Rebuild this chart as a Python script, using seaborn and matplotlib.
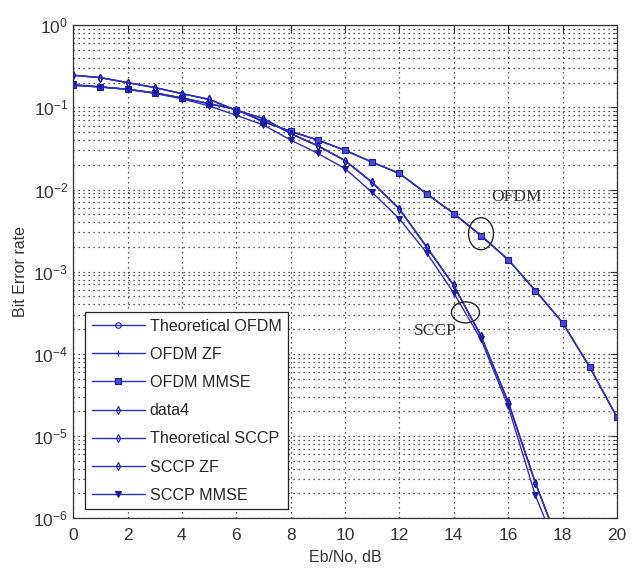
import numpy as np
import pandas as pd
import matplotlib
matplotlib.use("Agg")
import matplotlib.pyplot as plt
import seaborn as sns
from matplotlib.patches import Ellipse
from matplotlib.transforms import ScaledTranslation
from matplotlib.ticker import LogLocator, NullFormatter

# Eb/No points (dB)
snr_ofdm = list(range(0, 21))
snr_sccp = list(range(0, 19))

# OFDM curves (theoretical, ZF and MMSE lie on top of each other)
ber_ofdm = [0.186, 0.177, 0.166, 0.150, 0.130, 0.111, 0.094, 0.067, 0.051, 0.040,
            0.030, 0.0215, 0.0157, 0.0089, 0.0051, 0.00275, 0.0014, 5.9e-4,
            2.4e-4, 6.9e-5, 1.7e-5]

# SCCP curves
ber_sccp = [0.246, 0.230, 0.200, 0.174, 0.147, 0.125, 0.092, 0.073, 0.048, 0.034,
            0.0225, 0.0122, 0.0058, 0.0020, 6.8e-4, 1.65e-4, 2.6e-5, 2.7e-6, 3.7e-7]
ber_sccp_mmse = [0.190, 0.178, 0.165, 0.148, 0.127, 0.104, 0.080, 0.061, 0.040, 0.0275,
                 0.018, 0.0092, 0.0044, 0.0017, 5.5e-4, 1.5e-4, 2.3e-5, 1.9e-6, 2.9e-7]

labels = ["Theoretical OFDM", "OFDM ZF", "OFDM MMSE", "data4",
          "Theoretical SCCP", "SCCP ZF", "SCCP MMSE"]

sns.set_style("white")
plt.rcParams['font.family'] = ['Liberation Sans', 'DejaVu Sans']

blue = '#2f2fbf'
dark = '#1a1aa8'

fig = plt.figure(figsize=(6.36, 5.72), dpi=100)
ax = fig.add_axes([0.115, 0.094, 0.855, 0.862])

series = [
    (snr_ofdm, ber_ofdm, labels[0], 'o', 'none', 4),
    (snr_ofdm, ber_ofdm, labels[1], '+', dark, 5),
    (snr_ofdm, ber_ofdm, labels[2], 's', '#4a4ad8', 5),
    (snr_sccp, ber_sccp, labels[3], 'd', 'none', 4),
    (snr_sccp, ber_sccp, labels[4], 'd', 'none', 4),
    (snr_sccp, ber_sccp, labels[5], 'd', 'none', 4),
    (snr_sccp, ber_sccp_mmse, labels[6], 'v', dark, 4.5),
]
for x, y, lab, mk, fc, ms in series:
    sns.lineplot(x=x, y=y, ax=ax, label=lab, color=blue, lw=1.0,
                 marker=mk, markersize=ms, mfc=fc, mec=dark, mew=0.8)

ax.set_yscale('log')
ax.set_xlim(0, 20)
ax.set_ylim(1e-6, 1)
ax.set_xticks(range(0, 21, 2))
ax.yaxis.set_major_locator(LogLocator(base=10, numticks=10))
ax.yaxis.set_minor_locator(LogLocator(base=10, subs=np.arange(2, 10), numticks=20))
ax.yaxis.set_minor_formatter(NullFormatter())

dots = (0, (1, 3))
ax.grid(which='major', linestyle=dots, color='#222222', linewidth=0.9)
ax.grid(which='minor', axis='y', linestyle=dots, color='#222222', linewidth=0.9)
ax.tick_params(which='both', direction='in', top=True, right=True, labelsize=12.5,
               colors='#333333')
ax.tick_params(which='major', length=5)
ax.tick_params(which='minor', length=3)
ax.tick_params(axis='x', pad=7)
for s in ax.spines.values():
    s.set_color('#333333')
    s.set_linewidth(0.9)

ax.set_xlabel("Eb/No, dB", fontsize=11.5, color='#333333', labelpad=5)
ax.set_ylabel("Bit Error rate", fontsize=11.5, color='#333333', labelpad=4)

# annotations
def ring(x, y, w, h):
    tr = fig.dpi_scale_trans + ScaledTranslation(x, y, ax.transData)
    ax.add_patch(Ellipse((0, 0), w, h, transform=tr, fill=False,
                         edgecolor='#222222', lw=1.0, zorder=5))

ring(15, 2.9e-3, 0.25, 0.32)
ring(14.43, 3.2e-4, 0.28, 0.21)
ax.text(16.3, 8e-3, "OFDM", family='Liberation Serif', fontsize=12.5,
        ha='center', va='center', color='#333333')
ax.text(13.3, 1.9e-4, "SCCP", family='Liberation Serif', fontsize=12.5,
        ha='center', va='center', color='#333333')

leg = ax.legend(loc='lower left', bbox_to_anchor=(0.022, 0.018), borderaxespad=0,
                fontsize=11.6, frameon=True, fancybox=False, edgecolor='#222222',
                framealpha=1, handlelength=3.3, handletextpad=0.3,
                labelspacing=0.82, borderpad=0.4)
leg.get_frame().set_linewidth(0.9)

fig.savefig("out.png", dpi=100)
